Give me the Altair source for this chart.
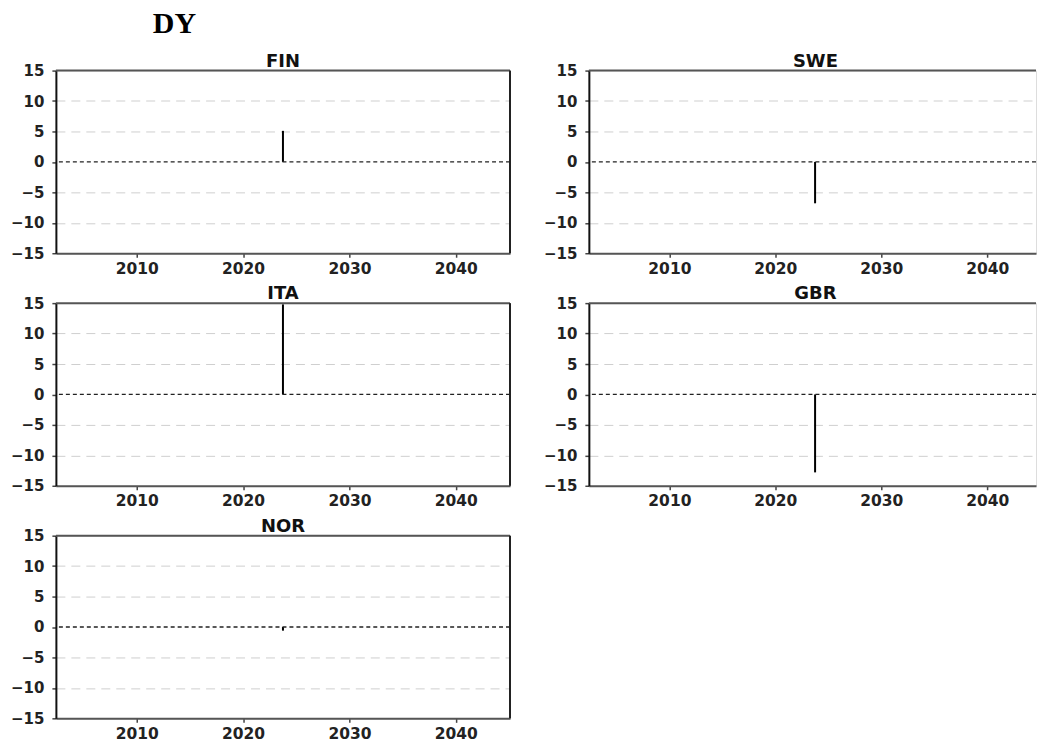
import altair as alt
import pandas as pd

# ---- data ----
countries = ["FIN", "SWE", "ITA", "GBR", "NOR"]
values = [5.1, -6.8, 14.8, -12.8, -0.6]
years = [2023.75, 2023.75, 2023.75, 2023.75, 2023.75]
y_ticks = [-15, -10, -5, 0, 5, 10, 15]
x_ticks = [2010, 2020, 2030, 2040]
x_domain_left = [2002.4, 2045.1]
x_domain_right = [2002.4, 2044.6]
y_domain = [-15, 15]

LABEL_FONT = "DejaVu Sans"


def panel(i, right_col):
    df = pd.DataFrame({"year": [years[i]], "value": [values[i]], "base": [0]})
    xdom = x_domain_right if right_col else x_domain_left
    w = 448 if right_col else 455
    xs = alt.Scale(domain=xdom, nice=False, zero=False)
    ys = alt.Scale(domain=y_domain, nice=False, zero=False)
    xaxis = alt.Axis(
        values=x_ticks, format="d", grid=False, title=None,
        domainColor="#555", domainWidth=2,
        tickSize=4, tickColor="#444", tickWidth=1.5,
        labelFont=LABEL_FONT, labelFontSize=15.5, labelFontWeight="bold",
        labelColor="#222", labelPadding=4, labelOverlap=False,
        labelFlush=False,
    )
    yaxis = alt.Axis(
        values=y_ticks, title=None,
        grid=True, gridDash=[9, 6], gridColor="#cfcfcf", gridWidth=1,
        gridOpacity=alt.condition("datum.value == 0 || abs(datum.value) == 15",
                                  alt.value(0), alt.value(1)),
        domainColor="#111", domainWidth=2,
        tickSize=4, tickColor="#444", tickWidth=1.5,
        labelFont=LABEL_FONT, labelFontSize=15, labelFontWeight="bold",
        labelColor="#222", labelPadding=8, labelOverlap=False,
        labelFlush=False,
    )
    base = alt.Chart(df)
    bar = base.mark_rule(color="black", strokeWidth=2).encode(
        x=alt.X("year:Q", scale=xs, axis=xaxis),
        y=alt.Y("value:Q", scale=ys, axis=yaxis),
        y2="base:Q",
    )
    zero = base.mark_rule(color="#222", strokeDash=[4, 3], strokeWidth=1.3).encode(
        y=alt.YDatum(0, scale=ys, axis=yaxis)
    )
    top = base.mark_rule(color="#555", strokeWidth=2).encode(
        y=alt.YDatum(y_domain[1], scale=ys, axis=yaxis)
    )
    layers = [bar, zero, top]
    if not right_col:
        right = base.mark_rule(color="#222", strokeWidth=2).encode(
            x=alt.XDatum(xdom[1], scale=xs, axis=xaxis)
        )
        layers.append(right)
    return alt.layer(*layers).properties(
        width=w,
        height=183,
        title=alt.TitleParams(
            countries[i], font=LABEL_FONT, fontSize=18, fontWeight="bold",
            color="#111", offset=-7, anchor="middle",
            dx=3 if right_col else 0,
        ),
    )


panels = [panel(i, i % 2 == 1) for i in range(len(countries))]

chart = alt.concat(
    *panels,
    columns=2,
    spacing=alt.RowColnumber(row=50, column=79),
    bounds="flush",
    align="each",
).properties(
    padding={"left": 10, "top": 8, "right": 0, "bottom": 0},
    title=alt.TitleParams(
        "DY", anchor="start", font="Liberation Serif", fontSize=30,
        fontWeight="bold", color="black", dx=143, offset=13,
    ),
).configure_view(stroke=None).configure(background="white")

chart.save("out.html", embed_options={"renderer": "svg", "actions": False})
